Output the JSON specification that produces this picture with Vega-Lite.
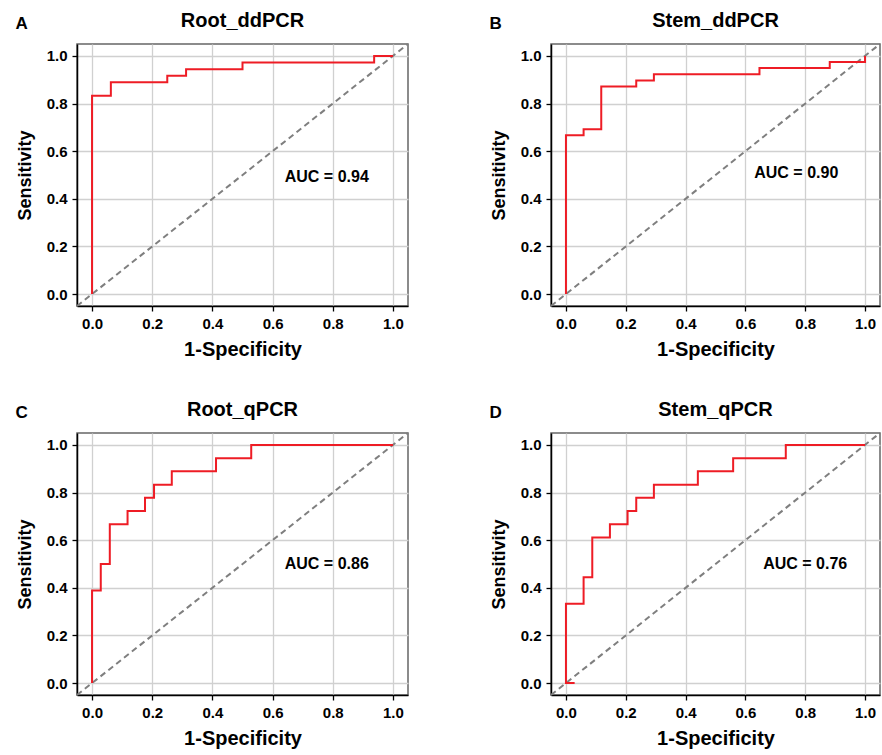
{
  "$schema": "https://vega.github.io/schema/vega-lite/v6.json",
  "padding": {"left": 15, "top": 10, "right": 0, "bottom": 0},
  "datasets": {
    "all": [
      {"kind": "label", "panel": "Root_ddPCR", "auc": "AUC = 0.94"},
      {"kind": "label", "panel": "Stem_ddPCR", "auc": "AUC = 0.90"},
      {"kind": "label", "panel": "Root_qPCR", "auc": "AUC = 0.86"},
      {"kind": "label", "panel": "Stem_qPCR", "auc": "AUC = 0.76"},

      {"kind": "roc", "panel": "Root_ddPCR", "order": 1, "fpr": 0, "tpr": 0},
      {"kind": "roc", "panel": "Root_ddPCR", "order": 2, "fpr": 0, "tpr": 0.833},
      {"kind": "roc", "panel": "Root_ddPCR", "order": 3, "fpr": 0.0625, "tpr": 0.833},
      {"kind": "roc", "panel": "Root_ddPCR", "order": 4, "fpr": 0.0625, "tpr": 0.889},
      {"kind": "roc", "panel": "Root_ddPCR", "order": 5, "fpr": 0.25, "tpr": 0.889},
      {"kind": "roc", "panel": "Root_ddPCR", "order": 6, "fpr": 0.25, "tpr": 0.917},
      {"kind": "roc", "panel": "Root_ddPCR", "order": 7, "fpr": 0.3125, "tpr": 0.917},
      {"kind": "roc", "panel": "Root_ddPCR", "order": 8, "fpr": 0.3125, "tpr": 0.944},
      {"kind": "roc", "panel": "Root_ddPCR", "order": 9, "fpr": 0.5, "tpr": 0.944},
      {"kind": "roc", "panel": "Root_ddPCR", "order": 10, "fpr": 0.5, "tpr": 0.972},
      {"kind": "roc", "panel": "Root_ddPCR", "order": 11, "fpr": 0.9375, "tpr": 0.972},
      {"kind": "roc", "panel": "Root_ddPCR", "order": 12, "fpr": 0.9375, "tpr": 1},
      {"kind": "roc", "panel": "Root_ddPCR", "order": 13, "fpr": 1, "tpr": 1},

      {"kind": "roc", "panel": "Stem_ddPCR", "order": 1, "fpr": 0, "tpr": 0},
      {"kind": "roc", "panel": "Stem_ddPCR", "order": 2, "fpr": 0, "tpr": 0.667},
      {"kind": "roc", "panel": "Stem_ddPCR", "order": 3, "fpr": 0.059, "tpr": 0.667},
      {"kind": "roc", "panel": "Stem_ddPCR", "order": 4, "fpr": 0.059, "tpr": 0.692},
      {"kind": "roc", "panel": "Stem_ddPCR", "order": 5, "fpr": 0.118, "tpr": 0.692},
      {"kind": "roc", "panel": "Stem_ddPCR", "order": 6, "fpr": 0.118, "tpr": 0.872},
      {"kind": "roc", "panel": "Stem_ddPCR", "order": 7, "fpr": 0.235, "tpr": 0.872},
      {"kind": "roc", "panel": "Stem_ddPCR", "order": 8, "fpr": 0.235, "tpr": 0.897},
      {"kind": "roc", "panel": "Stem_ddPCR", "order": 9, "fpr": 0.294, "tpr": 0.897},
      {"kind": "roc", "panel": "Stem_ddPCR", "order": 10, "fpr": 0.294, "tpr": 0.923},
      {"kind": "roc", "panel": "Stem_ddPCR", "order": 11, "fpr": 0.647, "tpr": 0.923},
      {"kind": "roc", "panel": "Stem_ddPCR", "order": 12, "fpr": 0.647, "tpr": 0.949},
      {"kind": "roc", "panel": "Stem_ddPCR", "order": 13, "fpr": 0.882, "tpr": 0.949},
      {"kind": "roc", "panel": "Stem_ddPCR", "order": 14, "fpr": 0.882, "tpr": 0.974},
      {"kind": "roc", "panel": "Stem_ddPCR", "order": 15, "fpr": 1, "tpr": 0.974},
      {"kind": "roc", "panel": "Stem_ddPCR", "order": 16, "fpr": 1, "tpr": 1},

      {"kind": "roc", "panel": "Root_qPCR", "order": 1, "fpr": 0, "tpr": 0},
      {"kind": "roc", "panel": "Root_qPCR", "order": 2, "fpr": 0, "tpr": 0.389},
      {"kind": "roc", "panel": "Root_qPCR", "order": 3, "fpr": 0.029, "tpr": 0.389},
      {"kind": "roc", "panel": "Root_qPCR", "order": 4, "fpr": 0.029, "tpr": 0.5},
      {"kind": "roc", "panel": "Root_qPCR", "order": 5, "fpr": 0.059, "tpr": 0.5},
      {"kind": "roc", "panel": "Root_qPCR", "order": 6, "fpr": 0.059, "tpr": 0.667},
      {"kind": "roc", "panel": "Root_qPCR", "order": 7, "fpr": 0.118, "tpr": 0.667},
      {"kind": "roc", "panel": "Root_qPCR", "order": 8, "fpr": 0.118, "tpr": 0.722},
      {"kind": "roc", "panel": "Root_qPCR", "order": 9, "fpr": 0.176, "tpr": 0.722},
      {"kind": "roc", "panel": "Root_qPCR", "order": 10, "fpr": 0.176, "tpr": 0.778},
      {"kind": "roc", "panel": "Root_qPCR", "order": 11, "fpr": 0.206, "tpr": 0.778},
      {"kind": "roc", "panel": "Root_qPCR", "order": 12, "fpr": 0.206, "tpr": 0.833},
      {"kind": "roc", "panel": "Root_qPCR", "order": 13, "fpr": 0.265, "tpr": 0.833},
      {"kind": "roc", "panel": "Root_qPCR", "order": 14, "fpr": 0.265, "tpr": 0.889},
      {"kind": "roc", "panel": "Root_qPCR", "order": 15, "fpr": 0.412, "tpr": 0.889},
      {"kind": "roc", "panel": "Root_qPCR", "order": 16, "fpr": 0.412, "tpr": 0.944},
      {"kind": "roc", "panel": "Root_qPCR", "order": 17, "fpr": 0.529, "tpr": 0.944},
      {"kind": "roc", "panel": "Root_qPCR", "order": 18, "fpr": 0.529, "tpr": 1},
      {"kind": "roc", "panel": "Root_qPCR", "order": 19, "fpr": 1, "tpr": 1},

      {"kind": "roc", "panel": "Stem_qPCR", "order": 1, "fpr": 0.029, "tpr": 0},
      {"kind": "roc", "panel": "Stem_qPCR", "order": 2, "fpr": 0, "tpr": 0},
      {"kind": "roc", "panel": "Stem_qPCR", "order": 3, "fpr": 0, "tpr": 0.333},
      {"kind": "roc", "panel": "Stem_qPCR", "order": 4, "fpr": 0.059, "tpr": 0.333},
      {"kind": "roc", "panel": "Stem_qPCR", "order": 5, "fpr": 0.059, "tpr": 0.444},
      {"kind": "roc", "panel": "Stem_qPCR", "order": 6, "fpr": 0.088, "tpr": 0.444},
      {"kind": "roc", "panel": "Stem_qPCR", "order": 7, "fpr": 0.088, "tpr": 0.611},
      {"kind": "roc", "panel": "Stem_qPCR", "order": 8, "fpr": 0.147, "tpr": 0.611},
      {"kind": "roc", "panel": "Stem_qPCR", "order": 9, "fpr": 0.147, "tpr": 0.667},
      {"kind": "roc", "panel": "Stem_qPCR", "order": 10, "fpr": 0.206, "tpr": 0.667},
      {"kind": "roc", "panel": "Stem_qPCR", "order": 11, "fpr": 0.206, "tpr": 0.722},
      {"kind": "roc", "panel": "Stem_qPCR", "order": 12, "fpr": 0.235, "tpr": 0.722},
      {"kind": "roc", "panel": "Stem_qPCR", "order": 13, "fpr": 0.235, "tpr": 0.778},
      {"kind": "roc", "panel": "Stem_qPCR", "order": 14, "fpr": 0.294, "tpr": 0.778},
      {"kind": "roc", "panel": "Stem_qPCR", "order": 15, "fpr": 0.294, "tpr": 0.833},
      {"kind": "roc", "panel": "Stem_qPCR", "order": 16, "fpr": 0.441, "tpr": 0.833},
      {"kind": "roc", "panel": "Stem_qPCR", "order": 17, "fpr": 0.441, "tpr": 0.889},
      {"kind": "roc", "panel": "Stem_qPCR", "order": 18, "fpr": 0.559, "tpr": 0.889},
      {"kind": "roc", "panel": "Stem_qPCR", "order": 19, "fpr": 0.559, "tpr": 0.944},
      {"kind": "roc", "panel": "Stem_qPCR", "order": 20, "fpr": 0.735, "tpr": 0.944},
      {"kind": "roc", "panel": "Stem_qPCR", "order": 21, "fpr": 0.735, "tpr": 1},
      {"kind": "roc", "panel": "Stem_qPCR", "order": 22, "fpr": 1, "tpr": 1}
    ]
  },
  "data": {"name": "all"},
  "spacing": 39,
  "vconcat": [
    {
      "spacing": 79,
      "hconcat": [
        {
          "title": {"text": "A", "anchor": "start", "offset": -23, "fontSize": 17},
          "vconcat": [
            {
              "title": "Root_ddPCR",
              "width": 331, "height": 262,
              "transform": [{"filter": "datum.panel === 'Root_ddPCR'"}],
              "encoding": {
                "x": {"type": "quantitative", "scale": {"domain": [-0.05, 1.05], "nice": false, "zero": false}, "axis": {"title": "1-Specificity", "values": [0, 0.2, 0.4, 0.6, 0.8, 1], "format": ".1f"}},
                "y": {"type": "quantitative", "scale": {"domain": [-0.05, 1.05], "nice": false, "zero": false}, "axis": {"title": "Sensitivity", "values": [0, 0.2, 0.4, 0.6, 0.8, 1], "format": ".1f"}}
              },
              "layer": [
                {"transform": [{"filter": "datum.kind === 'label'"}], "mark": {"type": "rule", "color": "#7f7f7f", "strokeWidth": 2, "strokeDash": [6, 4]}, "encoding": {"x": {"datum": -0.05}, "y": {"datum": -0.05}, "x2": {"datum": 1.05}, "y2": {"datum": 1.05}}},
                {"transform": [{"filter": "datum.kind === 'roc'"}], "mark": {"type": "line", "color": "#ee1c25", "strokeWidth": 2}, "encoding": {"x": {"field": "fpr"}, "y": {"field": "tpr"}, "order": {"field": "order", "type": "quantitative"}}},
                {"transform": [{"filter": "datum.kind === 'label'"}], "mark": {"type": "text", "fontWeight": "bold", "fontSize": 16, "color": "black", "align": "center", "baseline": "middle"}, "encoding": {"x": {"datum": 0.78}, "y": {"datum": 0.49}, "text": {"field": "auc"}}}
              ]
            }
          ]
        },
        {
          "title": {"text": "B", "anchor": "start", "offset": -23, "fontSize": 17},
          "vconcat": [
            {
              "title": "Stem_ddPCR",
              "width": 329, "height": 262,
              "transform": [{"filter": "datum.panel === 'Stem_ddPCR'"}],
              "encoding": {
                "x": {"type": "quantitative", "scale": {"domain": [-0.05, 1.05], "nice": false, "zero": false}, "axis": {"title": "1-Specificity", "values": [0, 0.2, 0.4, 0.6, 0.8, 1], "format": ".1f"}},
                "y": {"type": "quantitative", "scale": {"domain": [-0.05, 1.05], "nice": false, "zero": false}, "axis": {"title": "Sensitivity", "values": [0, 0.2, 0.4, 0.6, 0.8, 1], "format": ".1f"}}
              },
              "layer": [
                {"transform": [{"filter": "datum.kind === 'label'"}], "mark": {"type": "rule", "color": "#7f7f7f", "strokeWidth": 2, "strokeDash": [6, 4]}, "encoding": {"x": {"datum": -0.05}, "y": {"datum": -0.05}, "x2": {"datum": 1.05}, "y2": {"datum": 1.05}}},
                {"transform": [{"filter": "datum.kind === 'roc'"}], "mark": {"type": "line", "color": "#ee1c25", "strokeWidth": 2}, "encoding": {"x": {"field": "fpr"}, "y": {"field": "tpr"}, "order": {"field": "order", "type": "quantitative"}}},
                {"transform": [{"filter": "datum.kind === 'label'"}], "mark": {"type": "text", "fontWeight": "bold", "fontSize": 16, "color": "black", "align": "center", "baseline": "middle"}, "encoding": {"x": {"datum": 0.77}, "y": {"datum": 0.51}, "text": {"field": "auc"}}}
              ]
            }
          ]
        }
      ]
    },
    {
      "spacing": 79,
      "hconcat": [
        {
          "title": {"text": "C", "anchor": "start", "offset": -23, "fontSize": 17},
          "vconcat": [
            {
              "title": "Root_qPCR",
              "width": 331, "height": 262,
              "transform": [{"filter": "datum.panel === 'Root_qPCR'"}],
              "encoding": {
                "x": {"type": "quantitative", "scale": {"domain": [-0.05, 1.05], "nice": false, "zero": false}, "axis": {"title": "1-Specificity", "values": [0, 0.2, 0.4, 0.6, 0.8, 1], "format": ".1f"}},
                "y": {"type": "quantitative", "scale": {"domain": [-0.05, 1.05], "nice": false, "zero": false}, "axis": {"title": "Sensitivity", "values": [0, 0.2, 0.4, 0.6, 0.8, 1], "format": ".1f"}}
              },
              "layer": [
                {"transform": [{"filter": "datum.kind === 'label'"}], "mark": {"type": "rule", "color": "#7f7f7f", "strokeWidth": 2, "strokeDash": [6, 4]}, "encoding": {"x": {"datum": -0.05}, "y": {"datum": -0.05}, "x2": {"datum": 1.05}, "y2": {"datum": 1.05}}},
                {"transform": [{"filter": "datum.kind === 'roc'"}], "mark": {"type": "line", "color": "#ee1c25", "strokeWidth": 2}, "encoding": {"x": {"field": "fpr"}, "y": {"field": "tpr"}, "order": {"field": "order", "type": "quantitative"}}},
                {"transform": [{"filter": "datum.kind === 'label'"}], "mark": {"type": "text", "fontWeight": "bold", "fontSize": 16, "color": "black", "align": "center", "baseline": "middle"}, "encoding": {"x": {"datum": 0.78}, "y": {"datum": 0.5}, "text": {"field": "auc"}}}
              ]
            }
          ]
        },
        {
          "title": {"text": "D", "anchor": "start", "offset": -23, "fontSize": 17},
          "vconcat": [
            {
              "title": "Stem_qPCR",
              "width": 329, "height": 262,
              "transform": [{"filter": "datum.panel === 'Stem_qPCR'"}],
              "encoding": {
                "x": {"type": "quantitative", "scale": {"domain": [-0.05, 1.05], "nice": false, "zero": false}, "axis": {"title": "1-Specificity", "values": [0, 0.2, 0.4, 0.6, 0.8, 1], "format": ".1f"}},
                "y": {"type": "quantitative", "scale": {"domain": [-0.05, 1.05], "nice": false, "zero": false}, "axis": {"title": "Sensitivity", "values": [0, 0.2, 0.4, 0.6, 0.8, 1], "format": ".1f"}}
              },
              "layer": [
                {"transform": [{"filter": "datum.kind === 'label'"}], "mark": {"type": "rule", "color": "#7f7f7f", "strokeWidth": 2, "strokeDash": [6, 4]}, "encoding": {"x": {"datum": -0.05}, "y": {"datum": -0.05}, "x2": {"datum": 1.05}, "y2": {"datum": 1.05}}},
                {"transform": [{"filter": "datum.kind === 'roc'"}], "mark": {"type": "line", "color": "#ee1c25", "strokeWidth": 2}, "encoding": {"x": {"field": "fpr"}, "y": {"field": "tpr"}, "order": {"field": "order", "type": "quantitative"}}},
                {"transform": [{"filter": "datum.kind === 'label'"}], "mark": {"type": "text", "fontWeight": "bold", "fontSize": 16, "color": "black", "align": "center", "baseline": "middle"}, "encoding": {"x": {"datum": 0.8}, "y": {"datum": 0.5}, "text": {"field": "auc"}}}
              ]
            }
          ]
        }
      ]
    }
  ],
  "config": {
    "font": "Liberation Sans",
    "view": {"stroke": "#666666", "strokeWidth": 1.5},
    "title": {"font": "Liberation Sans", "fontSize": 20, "fontWeight": "bold", "color": "black", "offset": 12},
    "text": {"font": "Liberation Sans"},
    "axis": {
      "domain": true,
      "domainColor": "black",
      "domainWidth": 1.5,
      "grid": true,
      "gridColor": "#d0d0d0",
      "gridWidth": 1.3,
      "ticks": true,
      "tickColor": "black",
      "tickSize": 5,
      "tickWidth": 1.3,
      "labelFont": "Liberation Sans",
      "labelFontSize": 15,
      "labelFontWeight": "bold",
      "labelColor": "black",
      "labelPadding": 5,
      "titleFont": "Liberation Sans",
      "titleFontWeight": "bold",
      "titleColor": "black"
    },
    "axisX": {"titleFontSize": 20, "titlePadding": 8},
    "axisY": {"titleFontSize": 18, "titlePadding": 12}
  }
}
